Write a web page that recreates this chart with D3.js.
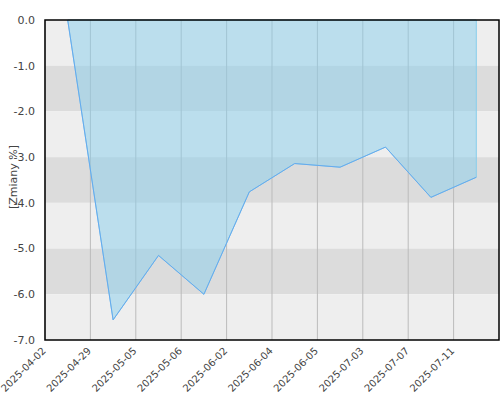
<!DOCTYPE html>
<html>
<head>
<meta charset="utf-8">
<script src="https://cdn.jsdelivr.net/npm/d3@7"></script>
<style>
  body { margin: 0; background: #fff; }
  text { font-family: "DejaVu Sans", sans-serif; fill: #444; }
</style>
</head>
<body>
<svg></svg>
<script>
const dates = ["2025-04-02", "2025-04-29", "2025-05-05", "2025-05-06", "2025-06-02",
  "2025-06-04", "2025-06-05", "2025-07-03", "2025-07-07", "2025-07-11"];
const changes = [0, -6.56, -5.15, -6.0, -3.76, -3.14, -3.22, -2.78, -3.88, -3.44];
const yTicks = [0, -1, -2, -3, -4, -5, -6, -7];

const width = 500;
const height = 400;
const svg = d3.select("svg").attr("width", width).attr("height", height);

const margin = { left: 45, right: 1, top: 20, bottom: 60 };
const graphWidth = width - margin.left - margin.right;
const graphHeight = height - margin.top - margin.bottom;

const xScale = d3.scaleBand().domain(dates).range([0, graphWidth]).padding(0);
const yScale = d3.scaleLinear().domain([0, -7]).range([0, graphHeight]);
const xMid = (d, i) => xScale(dates[i]) + xScale.bandwidth() / 2;

const g = svg.append("g").attr("transform", `translate(${margin.left}, ${margin.top})`);

// alternating background bands
g.selectAll(".band")
  .data(yTicks.slice(0, -1))
  .enter()
  .append("rect")
  .attr("x", 0)
  .attr("width", graphWidth)
  .attr("y", (d) => yScale(d))
  .attr("height", (d) => yScale(d - 1) - yScale(d))
  .attr("fill", (d, i) => (i % 2 ? "#dcdcdc" : "#eeeeee"));

// vertical grid lines
const xAxis = d3.axisBottom(xScale).tickSize(-graphHeight).tickFormat("");
const gridG = g.append("g").attr("transform", `translate(0, ${graphHeight})`).call(xAxis);
gridG.selectAll(".tick")
  .attr("transform", (d) => `translate(${xScale(d)},0)`);
gridG.selectAll(".tick line").attr("stroke", "#bbb");
gridG.select(".domain").remove();

// filled area
const area = d3.area()
  .x((d, i) => xMid(d, i))
  .y0(yScale(0))
  .y1((d) => yScale(d));
g.append("path")
  .datum(changes)
  .attr("d", area)
  .attr("fill", "#87ceeb")
  .attr("fill-opacity", 0.5)
  .attr("stroke", "#87ceeb")
  .attr("stroke-width", 1);

// line
const line = d3.line()
  .x((d, i) => xMid(d, i))
  .y((d) => yScale(d));
g.append("path")
  .datum(changes)
  .attr("d", line)
  .attr("fill", "none")
  .attr("stroke", "#66aaee")
  .attr("stroke-width", 1);

// frame
g.append("rect")
  .attr("width", graphWidth)
  .attr("height", graphHeight)
  .attr("fill", "none")
  .attr("stroke", "#000")
  .attr("stroke-width", 1.5);

// y tick labels
g.selectAll(".ylab")
  .data(yTicks)
  .enter()
  .append("text")
  .attr("x", -10)
  .attr("y", (d) => yScale(d))
  .attr("dy", "0.35em")
  .attr("text-anchor", "end")
  .style("font-size", "11px")
  .text((d) => d3.format(".1f")(d).replace("−", "-"));

// x tick labels
g.selectAll(".xlab")
  .data(dates)
  .enter()
  .append("text")
  .attr("transform", (d) => `translate(${xScale(d) - 1}, ${graphHeight + 9}) rotate(-45)`)
  .attr("dy", "0.35em")
  .attr("text-anchor", "end")
  .style("font-size", "10px")
  .text((d) => d);

// y axis title
svg.append("text")
  .attr("transform", `translate(17, 177) rotate(-90)`)
  .attr("text-anchor", "middle")
  .style("font-size", "11px")
  .text("[Zmiany %]");
</script>
</body>
</html>
